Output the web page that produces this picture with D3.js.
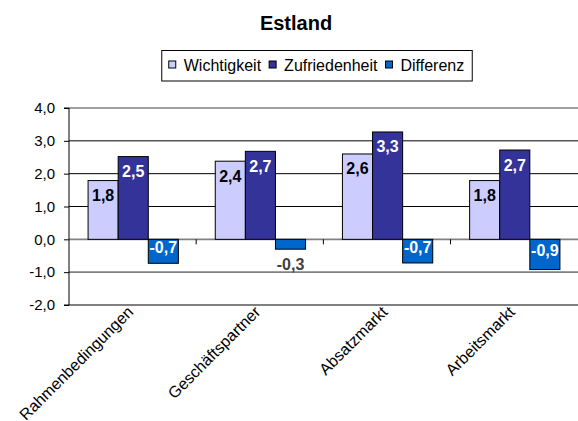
<!DOCTYPE html>
<html>
<head>
<meta charset="utf-8">
<script src="https://cdn.jsdelivr.net/npm/d3@7"></script>
<style>
  body { margin: 0; background: #fff; }
  svg { display: block; font-family: 'Liberation Sans', Arial, sans-serif; }
</style>
</head>
<body>
<div id="chart"></div>
<script>
var categories = ['Rahmenbedingungen', 'Geschäftspartner', 'Absatzmarkt', 'Arbeitsmarkt'];
var seriesNames = ['Wichtigkeit', 'Zufriedenheit', 'Differenz'];
var wichtigkeit = [1.79, 2.38, 2.6, 1.79];
var zufriedenheit = [2.52, 2.68, 3.27, 2.72];
var differenz = [-0.73, -0.3, -0.72, -0.92];
var yTicks = [-2, -1, 0, 1, 2, 3, 4];

var colors = {Wichtigkeit: '#ccccff', Zufriedenheit: '#333399', Differenz: '#0066cc'};
var labelColors = {Wichtigkeit: '#000', Zufriedenheit: '#fff', Differenz: '#fff'};

var W = 578, H = 421;
var plotLeft = 69, plotRight = 579, plotTop = 108, plotBottom = 305;

var locale = d3.formatLocale({decimal: ',', thousands: '.', grouping: [3], currency: ['', ' €'], minus: '-'});
var fmt = locale.format('.1f');

var svg = d3.select('#chart').append('svg')
    .attr('width', W)
    .attr('height', H);

var x = d3.scaleBand()
    .domain(categories)
    .range([plotLeft, plotRight])
    .paddingInner(0.29)
    .paddingOuter(0.15);

var xs = d3.scaleBand()
    .domain(seriesNames)
    .range([0, x.bandwidth()]);

var y = d3.scaleLinear()
    .domain([-2, 4])
    .range([plotBottom, plotTop]);

var data = categories.map(function(c, i) {
  return {cat: c, values: [
    {name: 'Wichtigkeit', v: wichtigkeit[i]},
    {name: 'Zufriedenheit', v: zufriedenheit[i]},
    {name: 'Differenz', v: differenz[i]}
  ]};
});

// title
svg.append('text')
    .attr('x', 296)
    .attr('y', 30)
    .attr('text-anchor', 'middle')
    .style('font-size', '20px')
    .style('font-weight', 'bold')
    .text('Estland');

// gridlines
svg.append('g').selectAll('line')
    .data(yTicks.filter(function(d) { return d !== -2; }))
  .enter().append('line')
    .attr('x1', plotLeft)
    .attr('x2', plotRight)
    .attr('y1', function(d) { return y(d); })
    .attr('y2', function(d) { return y(d); })
    .attr('stroke', function(d) { return (d === 4 || d === 0 || d === -1) ? '#808080' : '#000'; })
    .attr('stroke-width', function(d) { return (d === 4 || d === 0 || d === -1) ? 1.6 : 1; });

// y axis
var yAxis = d3.axisLeft(y)
    .tickValues(yTicks)
    .tickSize(5)
    .tickPadding(9)
    .tickFormat(fmt);

var ya = svg.append('g')
    .attr('transform', 'translate(' + plotLeft + ',0)')
    .call(yAxis);
ya.select('.domain').attr('stroke', '#000').attr('d', 'M-5,' + plotTop + 'H0V' + plotBottom + 'H-5');
ya.selectAll('.tick line').attr('stroke', '#000');
ya.selectAll('.tick text')
    .attr('fill', '#000')
    .style('font-size', '15px')
    .style('font-family', "'Liberation Sans', Arial, sans-serif");

// bottom line
svg.append('line')
    .attr('x1', plotLeft).attr('x2', plotRight)
    .attr('y1', plotBottom).attr('y2', plotBottom)
    .attr('stroke', '#000');

// bars
var groups = svg.selectAll('.grp')
    .data(data)
  .enter().append('g')
    .attr('class', 'grp')
    .attr('transform', function(d) { return 'translate(' + x(d.cat) + ',0)'; });

groups.selectAll('rect')
    .data(function(d) { return d.values; })
  .enter().append('rect')
    .attr('x', function(d) { return xs(d.name); })
    .attr('width', xs.bandwidth())
    .attr('y', function(d) { return y(Math.max(0, d.v)); })
    .attr('height', function(d) { return Math.abs(y(d.v) - y(0)); })
    .attr('fill', function(d) { return colors[d.name]; })
    .attr('stroke', '#000')
    .attr('stroke-width', 1);

// value labels
groups.selectAll('.lbl')
    .data(function(d) { return d.values; })
  .enter().append('text')
    .attr('class', 'lbl')
    .attr('x', function(d) { return xs(d.name) + xs.bandwidth() / 2; })
    .attr('y', function(d) {
      if (d.v >= 0) return y(d.v) + 20.5;
      var h = y(d.v) - y(0);
      if (h < 20) return y(d.v) + 21;
      return (y(d.v) + y(0)) / 2 + 2;
    })
    .attr('text-anchor', 'middle')
    .attr('fill', function(d) {
      if (d.v < 0 && y(d.v) - y(0) < 20) return '#404040';
      return labelColors[d.name];
    })
    .style('font-size', '16px')
    .style('font-weight', 'bold')
    .text(function(d) { return fmt(d.v); });

// category separator ticks on zero line
svg.append('g').selectAll('line')
    .data(d3.range(1, categories.length))
  .enter().append('line')
    .attr('x1', function(i) { return plotLeft + i * x.step(); })
    .attr('x2', function(i) { return plotLeft + i * x.step(); })
    .attr('y1', y(0))
    .attr('y2', y(0) + 5)
    .attr('stroke', '#000');

// category labels
svg.append('g').selectAll('text')
    .data(categories)
  .enter().append('text')
    .attr('transform', function(d) {
      return 'translate(' + (x(d) + x.bandwidth() / 2 + 1) + ',' + 313 + ') rotate(-45)';
    })
    .attr('text-anchor', 'end')
    .style('font-size', '16px')
    .text(function(d) { return d; });

// legend
var legend = svg.append('g').attr('class', 'legend');
var legBox = legend.append('rect')
    .attr('fill', '#fff')
    .attr('stroke', '#000');
var lx = 7;
var items = legend.selectAll('.item')
    .data(seriesNames)
  .enter().append('g')
    .attr('class', 'item');
items.append('rect')
    .attr('y', -10)
    .attr('width', 7)
    .attr('height', 7)
    .attr('fill', function(d) { return colors[d]; })
    .attr('stroke', '#000');
items.append('text')
    .attr('x', 15)
    .attr('y', 0)
    .style('font-size', '16px')
    .text(function(d) { return d; });
items.each(function() {
  var g = d3.select(this);
  g.attr('transform', 'translate(' + lx + ',0)');
  lx += 15 + g.select('text').node().getComputedTextLength() + 8;
});
var legW = lx;
var legX = 317 - legW / 2;
legend.attr('transform', 'translate(' + legX + ',71)');
legBox.attr('x', 0).attr('y', -20.5).attr('width', legW).attr('height', 30.5);
</script>
</body>
</html>
